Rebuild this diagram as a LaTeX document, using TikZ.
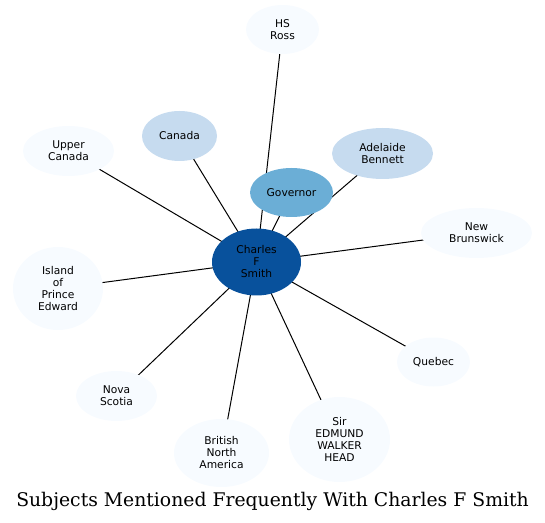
\documentclass[tikz,border=0pt]{standalone}
\usepackage{fontspec}
\setmainfont{DejaVu Sans}
\newfontfamily\titlefont{DejaVu Serif}
\usetikzlibrary{shapes.geometric,backgrounds}
\definecolor{cdark}{HTML}{08519C}
\definecolor{cmid}{HTML}{6BAED6}
\definecolor{clight}{HTML}{C6DBEF}
\definecolor{cpale}{HTML}{F7FBFF}
\tikzset{
  subj/.style={ellipse, inner sep=0pt, align=center, text=black,
    font=\fontsize{10.7}{12}\selectfont},
  link/.style={draw=black, line width=1pt},
}
\begin{document}
\begin{tikzpicture}[x=1pt,y=1pt]
\useasboundingbox (0,0) rectangle (545,522);
\node[subj, fill=cdark, minimum width=89, minimum height=67] (smith) at (256.5,260) {Charles\\F\\Smith};
\node[subj, fill=cmid, minimum width=83, minimum height=49] (gov) at (291.5,329.5) {Governor};
\node[subj, fill=cpale, minimum width=73, minimum height=49] (ross) at (282.5,492.5) {HS\\Ross};
\node[subj, fill=clight, minimum width=75, minimum height=50] (canada) at (179.5,386) {Canada};
\node[subj, fill=cpale, minimum width=91, minimum height=50] (upper) at (68.5,371) {Upper\\Canada};
\node[subj, fill=cpale, minimum width=90, minimum height=83] (pei) at (58,233.5) {Island\\of\\Prince\\Edward};
\node[subj, fill=clight, minimum width=101, minimum height=51] (bennett) at (382.5,368.5) {Adelaide\\Bennett};
\node[subj, fill=cpale, minimum width=111, minimum height=50] (nb) at (476.5,289) {New\\Brunswick};
\node[subj, fill=cpale, minimum width=73, minimum height=49] (quebec) at (433.5,160) {Quebec};
\node[subj, fill=cpale, minimum width=81, minimum height=50] (nova) at (116.5,126) {Nova\\Scotia};
\node[subj, fill=cpale, minimum width=95, minimum height=68] (bna) at (221.5,69) {British\\North\\America};
\node[subj, fill=cpale, minimum width=101, minimum height=85] (head) at (339.5,82.5) {Sir\\EDMUND\\WALKER\\HEAD};
\begin{scope}[on background layer]
\foreach \n in {gov,ross,canada,upper,pei,bennett,nb,quebec,nova,bna,head}
  \draw[link] (smith.center) -- (\n.center);
\end{scope}
\node[anchor=base, font=\titlefont\fontsize{18.8}{22}\selectfont] (title) at (272.5,16) {Subjects Mentioned Frequently With Charles F Smith};
\end{tikzpicture}
\end{document}
